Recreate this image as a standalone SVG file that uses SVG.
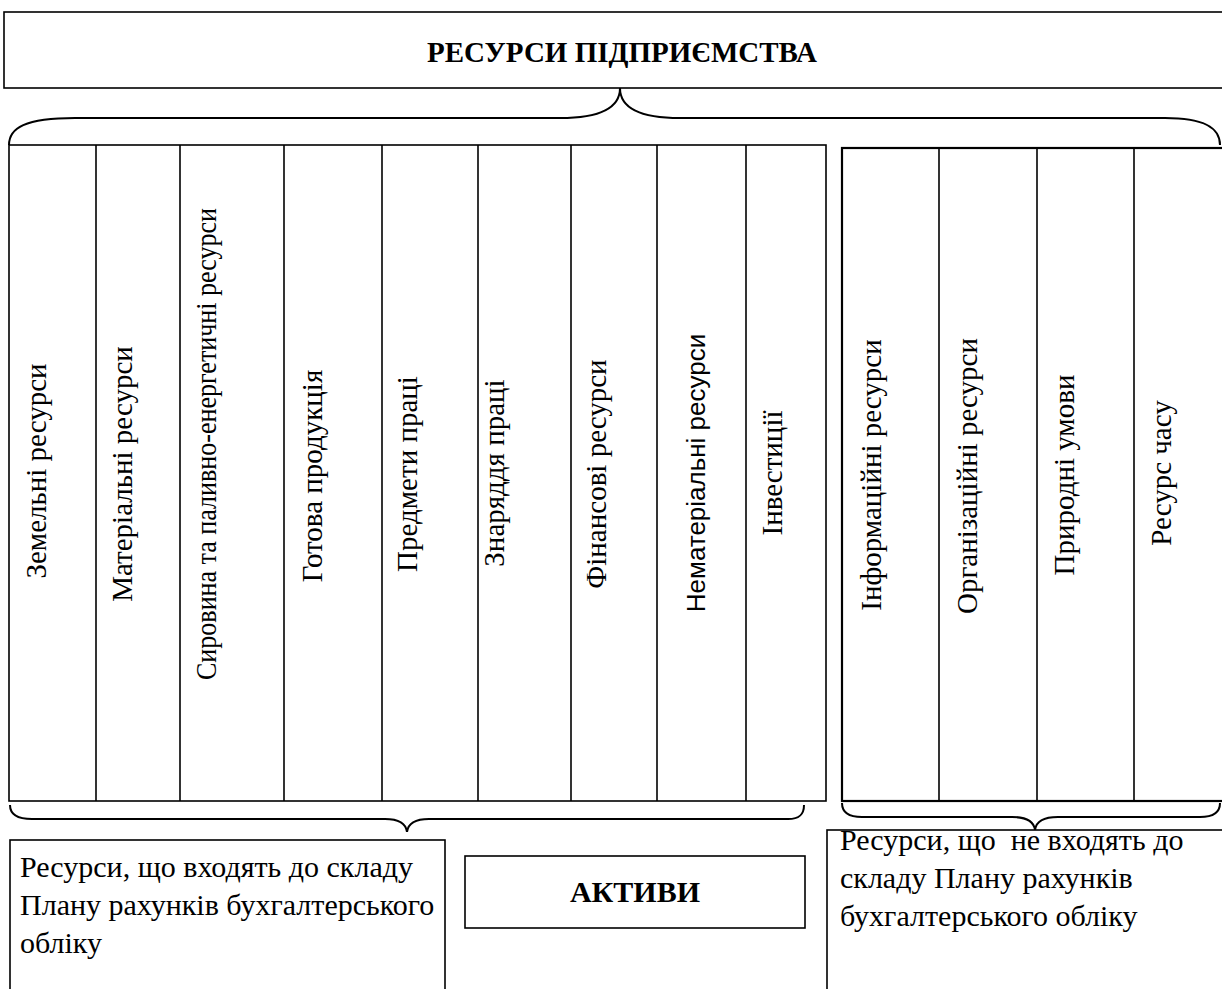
<svg xmlns="http://www.w3.org/2000/svg" width="1222" height="989" viewBox="0 0 1222 989">
  <style>
    .box { fill: #ffffff; stroke: #000000; stroke-width: 1.6; }
    .thick { stroke-width: 2.2; }
    .line { stroke: #000000; stroke-width: 1.6; fill: none; }
    .brace { stroke: #000000; stroke-width: 2; fill: none; }
    .t { font-family: "Liberation Serif", "Times New Roman", serif; font-size: 29px; fill: #000000; }
    .tp { font-family: "Liberation Serif", "Times New Roman", serif; font-size: 30px; fill: #000000; }
    .ts { font-family: "Liberation Sans", Arial, sans-serif; font-size: 26px; fill: #000000; }
    .b { font-weight: bold; }
    .v { text-anchor: middle; }
  </style>
  <rect width="1222" height="989" fill="#ffffff"/>

  <!-- Header -->
  <g id="header">
    <rect class="box" x="4" y="12" width="1230" height="76"/>
    <text class="t b" x="622" y="62" text-anchor="middle">РЕСУРСИ ПІДПРИЄМСТВА</text>
  </g>

  <!-- Braces -->
  <g id="connectors">
    <path class="brace" d="M9,145 C9,128 25,118 75,118 L560,118 C600,118 620,108 620,88 C620,108 640,118 680,118 L1165,118 C1205,118 1220,128 1220,145"/>
    <path class="brace" d="M10,805 C10,814 16,819 32,819 L385,819 C399,819 406,824 407,832 C408,824 415,819 429,819 L788,819 C800,819 804,814 804,805"/>
    <path class="brace" d="M842,803 C842,812 848,817 862,817 L1012,817 C1027,817 1034,822 1035,830 C1036,822 1043,817 1058,817 L1200,817 C1214,817 1220,812 1220,803"/>
  </g>

  <!-- Accounted resources -->
  <g id="accounted-columns">
    <rect class="box" x="9" y="145" width="817" height="656"/>
    <line class="line" x1="96" y1="145" x2="96" y2="801"/>
    <line class="line" x1="180" y1="145" x2="180" y2="801"/>
    <line class="line" x1="284" y1="145" x2="284" y2="801"/>
    <line class="line" x1="382" y1="145" x2="382" y2="801"/>
    <line class="line" x1="478" y1="145" x2="478" y2="801"/>
    <line class="line" x1="571" y1="145" x2="571" y2="801"/>
    <line class="line" x1="657" y1="145" x2="657" y2="801"/>
    <line class="line" x1="746" y1="145" x2="746" y2="801"/>
  </g>
  <g id="col-land"><text class="t v" x="46" y="471" transform="rotate(-90 46 471)">Земельні ресурси</text></g>
  <g id="col-material"><text class="t v" x="132" y="474" transform="rotate(-90 132 474)">Матеріальні ресурси</text></g>
  <g id="col-raw"><text class="t v" x="216" y="444" textLength="472" lengthAdjust="spacingAndGlyphs" transform="rotate(-90 216 444)">Сировина та паливно-енергетичні ресурси</text></g>
  <g id="col-product"><text class="t v" x="322" y="476" transform="rotate(-90 322 476)">Готова продукція</text></g>
  <g id="col-objects"><text class="t v" x="417" y="474" transform="rotate(-90 417 474)">Предмети праці</text></g>
  <g id="col-tools"><text class="t v" x="504" y="473" transform="rotate(-90 504 473)">Знаряддя праці</text></g>
  <g id="col-finance"><text class="t v" x="606" y="474" transform="rotate(-90 606 474)">Фінансові ресурси</text></g>
  <g id="col-intangible"><text class="ts v" x="705" y="473" transform="rotate(-90 705 473)">Нематеріальні ресурси</text></g>
  <g id="col-invest"><text class="t v" x="782" y="473" transform="rotate(-90 782 473)">Інвестиції</text></g>

  <!-- Non-accounted resources -->
  <g id="other-columns">
    <rect class="box thick" x="842" y="148" width="392" height="653"/>
    <line class="line" x1="939" y1="148" x2="939" y2="801" stroke-width="2.2"/>
    <line class="line" x1="1037" y1="148" x2="1037" y2="801" stroke-width="2.2"/>
    <line class="line" x1="1134" y1="148" x2="1134" y2="801" stroke-width="2.2"/>
  </g>
  <g id="col-info"><text class="t v" x="881" y="475" transform="rotate(-90 881 475)">Інформаційні ресурси</text></g>
  <g id="col-org"><text class="t v" x="977" y="476" transform="rotate(-90 977 476)">Організаційні ресурси</text></g>
  <g id="col-nature"><text class="t v" x="1074" y="475" transform="rotate(-90 1074 475)">Природні умови</text></g>
  <g id="col-time"><text class="t v" x="1171" y="473" transform="rotate(-90 1171 473)">Ресурс часу</text></g>

  <!-- Bottom boxes -->
  <g id="in-plan">
    <rect class="box" x="10" y="840" width="435" height="160"/>
    <text class="tp" x="20" y="877">Ресурси, що входять до складу</text>
    <text class="tp" x="20" y="915">Плану рахунків бухгалтерського</text>
    <text class="tp" x="20" y="953">обліку</text>
  </g>
  <g id="assets">
    <rect class="box" x="465" y="856" width="340" height="72"/>
    <text class="tp b" x="635" y="902" text-anchor="middle">АКТИВИ</text>
  </g>
  <g id="not-in-plan">
    <rect class="box" x="827" y="830" width="400" height="170"/>
    <text class="tp" x="840" y="850" xml:space="preserve">Ресурси, що  не входять до</text>
    <text class="tp" x="840" y="888">складу Плану рахунків</text>
    <text class="tp" x="840" y="926">бухгалтерського обліку</text>
  </g>
</svg>
